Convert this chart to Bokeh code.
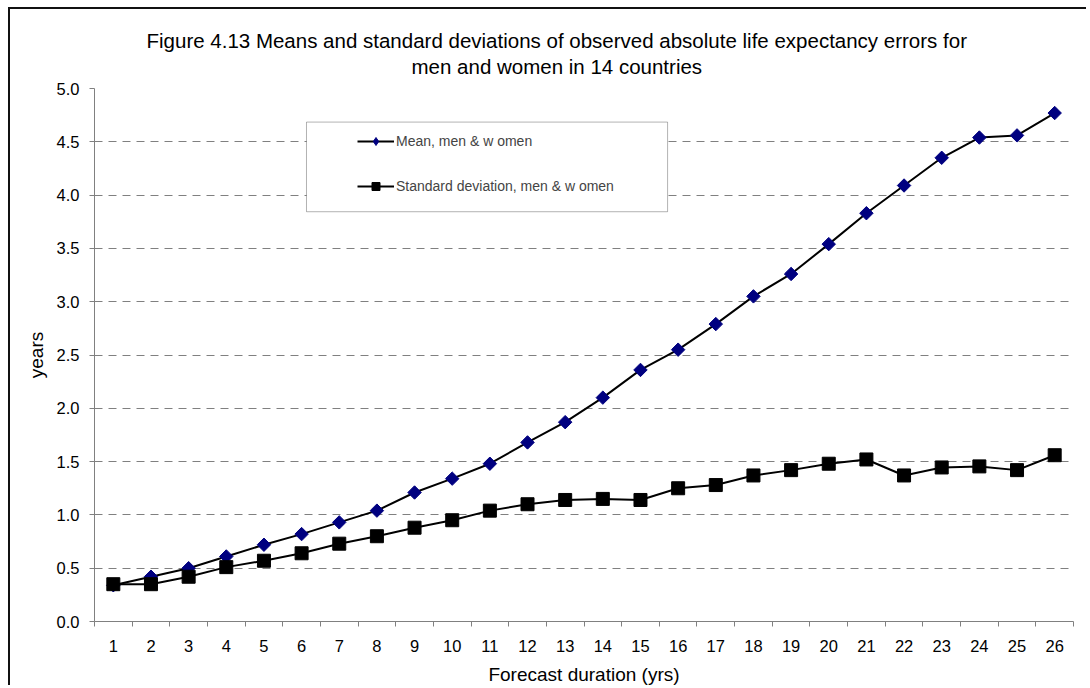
from bokeh.plotting import figure
from bokeh.models import (Range1d, FixedTicker, NumeralTickFormatter, Legend, LegendItem,
                          Title, BoxAnnotation, ColumnDataSource)
from bokeh.embed import file_html
from bokeh.resources import INLINE
import math

# ---- data ----
duration = list(range(1, 27))
tick_labels = [str(d) for d in duration]
mean_err = [0.34, 0.42, 0.50, 0.61, 0.72, 0.82, 0.93, 1.04, 1.21, 1.34, 1.48, 1.68, 1.87,
            2.10, 2.36, 2.55, 2.79, 3.05, 3.26, 3.54, 3.83, 4.09, 4.35, 4.54, 4.56, 4.77]
std_err = [0.35, 0.35, 0.42, 0.51, 0.57, 0.64, 0.73, 0.80, 0.88, 0.95, 1.04, 1.10, 1.14,
           1.15, 1.14, 1.25, 1.28, 1.37, 1.42, 1.48, 1.52, 1.37, 1.445, 1.455, 1.42, 1.56]
y_ticks = [0.0, 0.5, 1.0, 1.5, 2.0, 2.5, 3.0, 3.5, 4.0, 4.5, 5.0]
title_lines = ["Figure 4.13 Means and standard deviations of observed absolute life expectancy errors for",
               "men and women in 14 countries"]
x_title = "Forecast duration (yrs)"
y_title = "years"
series_names = ["Mean, men & w omen", "Standard deviation, men & w omen"]

FONT = "Liberation Sans"

src = ColumnDataSource(dict(x=duration, mean=mean_err, std=std_err))

p = figure(width=1078, height=678, output_backend="svg", toolbar_location=None, title=None,
           x_range=Range1d(0.5, 26.5), y_range=Range1d(0, 5),
           min_border_left=84, min_border_right=15, min_border_top=79, min_border_bottom=64)
p.styles = {"margin-left": "8px", "margin-top": "7px",
            "border-left": "2px solid #111", "border-top": "2px solid #111"}
p.outline_line_color = None
p.background_fill_color = "white"
p.border_fill_color = "white"

# axes
p.xaxis.ticker = FixedTicker(ticks=duration, minor_ticks=[d - 0.5 for d in duration] + [26.5])
p.xaxis.major_label_overrides = {d: l for d, l in zip(duration, tick_labels)}
p.xaxis.minor_tick_line_color = "#808080"
p.xaxis.minor_tick_out = 5
p.xaxis.minor_tick_in = 0
p.xaxis.major_label_standoff = 12
p.xaxis.axis_label = x_title
p.xaxis.axis_label_standoff = 9
p.yaxis.ticker = FixedTicker(ticks=y_ticks)
p.yaxis.formatter = NumeralTickFormatter(format="0.0")
p.yaxis.major_tick_out = 5
p.yaxis.major_tick_in = 0
p.yaxis.minor_tick_line_color = None
p.yaxis.major_label_standoff = 10
p.yaxis.axis_label = y_title
p.yaxis.axis_label_standoff = 7
for ax in (p.xaxis, p.yaxis):
    ax.axis_line_color = "#808080"
    ax.major_label_text_font = FONT
    ax.major_label_text_font_size = "16.5px"
    ax.major_label_text_color = "black"
    ax.axis_label_text_font = FONT
    ax.axis_label_text_font_size = "19px"
    ax.axis_label_text_font_style = "normal"
    ax.axis_label_text_color = "black"
p.yaxis.major_tick_line_color = "#808080"
p.xaxis.major_tick_line_color = None

p.xgrid.grid_line_color = None
p.ygrid.ticker = FixedTicker(ticks=y_ticks)
p.ygrid.grid_line_color = "#808080"
p.ygrid.grid_line_dash = "8 6"
p.ygrid.grid_line_width = 1

# series
l_mean = p.line("x", "mean", source=src, line_color="black", line_width=2)
s_mean = p.scatter("x", "mean", source=src, marker="square", size=9.5, angle=math.pi / 4,
                   fill_color="#000080", line_color="#000080")
s_mean_key = p.scatter("x", "mean", source=src, marker="diamond", size=9,
                       fill_color="#000080", line_color="#000080", visible=False)
l_std = p.line("x", "std", source=src, line_color="black", line_width=2)
s_std = p.scatter("x", "std", source=src, marker="square", size=13,
                  fill_color="black", line_color="black")

# legend box
box = BoxAnnotation(left=6.13, right=15.72, top=4.685, bottom=3.844,
                    fill_color="white", fill_alpha=1, line_color="black", line_width=1)
p.add_layout(box)

legend = Legend(items=[LegendItem(label=series_names[0], renderers=[l_mean, s_mean_key]),
                       LegendItem(label=series_names[1], renderers=[l_std, s_std])],
                location=(263, 425), padding=0, margin=0, spacing=25,
                glyph_width=37, glyph_height=20, label_standoff=2,
                border_line_color=None, background_fill_alpha=0,
                label_text_font=FONT, label_text_font_size="14px")
p.add_layout(legend)

# two-line chart title (added nearest-first)
p.add_layout(Title(text=title_lines[1], align="left", offset=317, vertical_align="top",
                   standoff=17, text_font=FONT, text_font_size="20.5px",
                   text_font_style="normal", text_color="black"), "above")
p.add_layout(Title(text=title_lines[0], align="left", offset=52, vertical_align="bottom",
                   standoff=-10, text_font=FONT, text_font_size="20.5px",
                   text_font_style="normal", text_color="black"), "above")

open("out.html", "w").write(file_html(p, INLINE))
